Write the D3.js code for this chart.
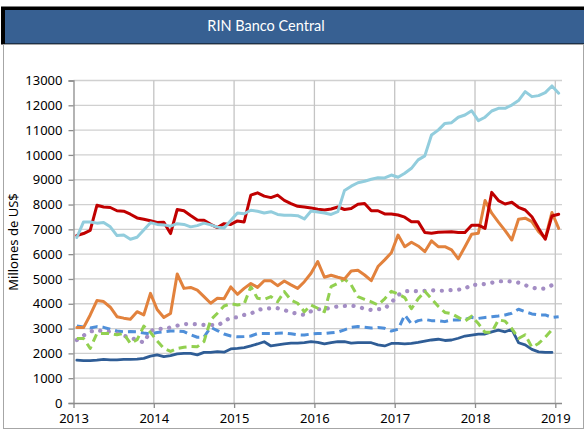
<!DOCTYPE html>
<html><head><meta charset="utf-8">
<script src="https://cdn.jsdelivr.net/npm/d3@7"></script>
<style>
html,body{margin:0;padding:0;background:#fff;}
svg{display:block;}
</style></head>
<body>
<svg id="chart" width="584" height="432"></svg>
<script>
const title = "RIN Banco Central";
const yAxisTitle = "Millones de US$";
const startYear = 2013;
const yearTicks = [2013, 2014, 2015, 2016, 2017, 2018, 2019];
const valueTicks = [0,1000,2000,3000,4000,5000,6000,7000,8000,9000,10000,11000,12000,13000];

const darkBlue = [1730,1710,1710,1730,1760,1740,1740,1760,1760,1770,1800,1890,
 1940,1870,1910,1980,2000,2000,1940,2040,2040,2070,2050,2180,
 2200,2230,2300,2380,2470,2300,2340,2380,2410,2410,2430,2470,
 2440,2380,2430,2470,2470,2410,2430,2430,2430,2340,2300,2400,
 2400,2380,2400,2440,2490,2540,2570,2520,2540,2610,2700,2740,
 2780,2780,2870,2940,2870,2970,2430,2340,2160,2060,2040,2040];
const blueDash = [3100,3060,3020,3080,3050,2970,2900,2870,2880,2870,2820,2780,
 2840,2870,2900,2900,2880,2750,2650,2660,3050,2920,2780,2700,
 2670,2680,2700,2800,2800,2800,2810,2820,2790,2750,2740,2780,
 2800,2800,2830,2860,2950,3050,3080,3050,3020,3040,3010,2900,
 2970,3550,3190,3320,3370,3320,3320,3280,3350,3350,3370,3450,
 3410,3450,3480,3510,3550,3620,3780,3680,3590,3550,3550,3450,
 3480];
const purple = [2540,2720,2880,2950,2880,2880,2800,2720,2620,2550,2430,2900,
 3000,2980,3050,3120,3180,3190,3170,3150,3150,3120,3280,3450,
 3450,3550,3600,3750,3800,3820,3820,3750,3650,3600,3550,3700,
 3780,3780,3850,3890,3910,3930,3880,3800,3750,3780,3800,4050,
 4350,4500,4520,4500,4520,4550,4520,4530,4550,4570,4600,4780,
 4750,4800,4850,4900,4920,4900,4850,4750,4650,4600,4620,4750,
 4860];
const green = [2600,2600,2200,2800,2800,2800,2750,2800,2400,2550,3100,2850,
 2500,2200,2080,2200,2250,2280,2270,2480,3350,3620,3910,4000,
 3950,3990,4690,4220,4180,4290,4080,4490,4150,4020,3680,3950,
 3820,3680,4690,4830,4990,4760,4290,4180,4080,3950,4200,4500,
 4400,4250,3800,4200,4500,4200,3900,3650,3600,3450,3300,3500,
 3200,2850,2850,3350,3300,3000,2600,2750,2250,2400,2650,2950];
const orange = [3040,3040,3550,4130,4090,3860,3480,3420,3380,3680,3550,4420,
 3770,3450,3610,5200,4620,4660,4550,4290,4020,4220,4200,4680,
 4380,4620,4820,4660,4930,4930,4730,4920,4760,4620,4890,5230,
 5700,5070,5150,5070,5000,5320,5350,5160,4930,5500,5770,6060,
 6770,6300,6480,6330,6100,6540,6300,6300,6170,5810,6300,6800,
 6840,8160,7650,7290,6950,6570,7410,7450,7310,6910,6640,7680,
 7040];
const red = [6750,6830,6960,7970,7900,7880,7750,7730,7610,7460,7410,7350,
 7280,7290,6830,7800,7750,7560,7380,7370,7200,7070,7230,7200,
 7340,7300,8380,8470,8340,8280,8380,8170,8040,7930,7900,7860,
 7810,7780,7820,7900,7800,7840,8010,8040,7750,7750,7620,7620,
 7580,7490,7310,7310,6870,6840,6880,6890,6900,6870,6870,7170,
 7170,7040,8490,8160,8020,8090,7890,7780,7510,7040,6600,7540,
 7610];
const lightBlue = [6670,7300,7300,7250,7280,7100,6750,6770,6600,6680,6970,7270,
 7200,7180,7130,7230,7200,7100,7150,7250,7180,7090,7050,7360,
 7660,7630,7770,7730,7660,7710,7600,7570,7570,7550,7420,7740,
 7700,7660,7600,7710,8570,8740,8880,8940,9020,9080,9070,9190,
 9100,9260,9460,9800,9960,10800,11000,11270,11300,11520,11610,11780,
 11380,11520,11770,11880,11880,12010,12190,12550,12350,12390,12510,12780,
 12490];

const series = [
  {values: darkBlue, color: "#2F5D96", width: 2.8, dash: null, cap: "round"},
  {values: blueDash, color: "#4F8FD9", width: 3, dash: "8 5", cap: "butt"},
  {values: purple, color: "#A38DC4", width: 4.2, dash: "0.1 8.6", cap: "round"},
  {values: green, color: "#92D050", width: 3, dash: "8 5", cap: "butt"},
  {values: orange, color: "#E2823D", width: 3, dash: null, cap: "round"},
  {values: red, color: "#C00000", width: 3, dash: null, cap: "round"},
  {values: lightBlue, color: "#92CDDD", width: 3, dash: null, cap: "round"}
];

const svg = d3.select("#chart");
const font = "'Noto Sans', 'Open Sans', sans-serif";

// frame
svg.append("rect").attr("x",1).attr("y",6.5).attr("width",583).attr("height",38).attr("fill","#000");
svg.append("rect").attr("x",5).attr("y",10).attr("width",579).attr("height",33.5).attr("fill","#376092");
svg.append("rect").attr("x",3.5).attr("y",44.5).attr("width",580).attr("height",384)
  .attr("fill","#fff").attr("stroke","#A6A6A6").attr("stroke-width",1);
svg.append("text").attr("x",266).attr("y",31).attr("text-anchor","middle")
  .attr("fill","#fff").style("font-family","Lato, sans-serif").style("font-size","14.5px")
  .text(title);

const x = d3.scaleLinear().domain([startYear, 2019 + 1/12]).range([73.5, 562]);
const y = d3.scaleLinear().domain([0, 13000]).range([403, 80.5]);

// horizontal gridlines
svg.append("g").selectAll("line").data(valueTicks.filter(v => v > 0)).join("line")
  .attr("x1", x.range()[0]).attr("x2", x.range()[1])
  .attr("y1", d => y(d)).attr("y2", d => y(d))
  .attr("stroke","#D0D0D0").attr("stroke-width",1.3);
// vertical gridlines
svg.append("g").selectAll("line").data(yearTicks.slice(1)).join("line")
  .attr("x1", d => x(d)).attr("x2", d => x(d))
  .attr("y1", y(13000)).attr("y2", y(0))
  .attr("stroke","#C4C4C4").attr("stroke-width",1.3);

// axes
const yAxis = d3.axisLeft(y).tickValues(valueTicks).tickSize(5).tickPadding(6).tickFormat(d3.format("d"));
const gy = svg.append("g").attr("transform", `translate(${x(startYear)},0)`).call(yAxis);
const xAxis = d3.axisBottom(x).tickValues(yearTicks).tickSize(5).tickPadding(6).tickFormat(d3.format("d"));
const gx = svg.append("g").attr("transform", `translate(0,${y(0)})`).call(xAxis);
[gx, gy].forEach(g => {
  g.select(".domain").attr("stroke","#8C8C8C").attr("stroke-width",1.3);
  g.selectAll(".tick line").attr("stroke","#8C8C8C").attr("stroke-width",1.3);
  g.selectAll("text").attr("fill","#000").style("font-family",font).style("font-size","13px");
});
gx.select(".domain").attr("d", `M${x.range()[0]},0.5H${x.range()[1]}`);

svg.append("text").attr("transform","translate(18,242) rotate(-90)")
  .attr("text-anchor","middle").style("font-family",font).style("font-size","13px")
  .attr("fill","#000").text(yAxisTitle);

// lines
const line = d3.line()
  .x((d, i) => x(startYear + (i + 0.5) / 12))
  .y(d => y(d));
series.forEach(s => {
  svg.append("path").datum(s.values)
    .attr("d", line).attr("fill","none")
    .attr("stroke", s.color).attr("stroke-width", s.width)
    .attr("stroke-linejoin","round").attr("stroke-linecap", s.cap)
    .attr("stroke-dasharray", s.dash);
});
</script>
</body></html>
